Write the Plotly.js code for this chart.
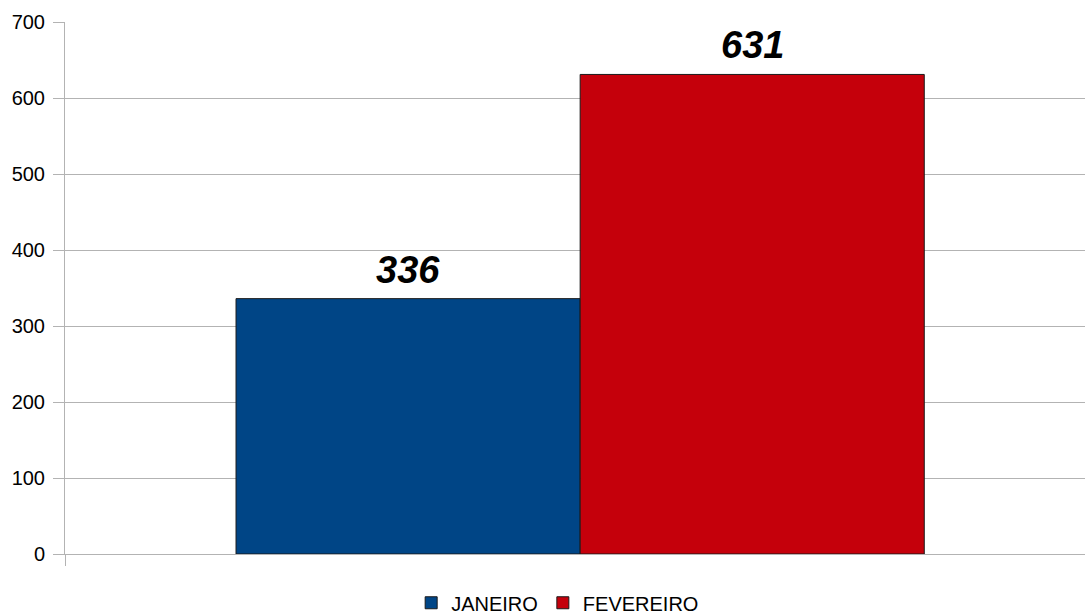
<!DOCTYPE html>
<html>
<head>
<meta charset="utf-8">
<script src="https://cdn.plot.ly/plotly-3.0.1.min.js"></script>
<style>html,body{margin:0;padding:0;background:#fff}#chart{width:1085px;height:615px}</style>
</head>
<body>
<div id="chart"></div>
<script>
const category = [""];
const seriesNames = ["JANEIRO", "FEVEREIRO"];
const janeiro = [336];
const fevereiro = [631];
const colors = ["#004586", "#C5000B"];
const yTicks = [0, 100, 200, 300, 400, 500, 600, 700];

const font = "Liberation Sans, Arial, sans-serif";
const seriesValues = [janeiro, fevereiro];
const bargap = 0.332;
const barWidth = (1 - bargap) / seriesNames.length;

const traces = seriesNames.map((name, i) => ({
  type: "bar",
  name: name,
  x: category,
  y: seriesValues[i],
  marker: {color: colors[i], line: {color: "#1a1a1a", width: 1}}
}));

const annotations = [];
seriesNames.forEach((name, i) => {
  seriesValues[i].forEach((v, j) => {
    annotations.push({
      xref: "x", yref: "y",
      x: j - (1 - bargap) / 2 + barWidth * (i + 0.5),
      y: v, yanchor: "bottom", xanchor: "center", yshift: 6,
      text: "<b><i>" + v + "</i></b>", showarrow: false,
      font: {family: font, size: 38, color: "#000"}
    });
  });
});

const layout = {
  width: 1085, height: 615,
  margin: {l: 65, r: 0, t: 22, b: 61, autoexpand: false},
  paper_bgcolor: "#fff", plot_bgcolor: "#fff",
  barmode: "group",
  bargap: bargap,
  bargroupgap: 0,
  showlegend: true,
  annotations: annotations,
  legend: {orientation: "h", x: 0.483, xanchor: "center", y: -0.055, yanchor: "top",
           font: {family: font, size: 20, color: "#000"}, itemwidth: 30, traceorder: "normal"},
  xaxis: {type: "category", range: [-0.5, 0.49], showline: true, linecolor: "#b3b3b3", linewidth: 1,
          ticks: "outside", ticklen: 11, tickcolor: "#b3b3b3", tickson: "boundaries",
          showticklabels: false, showgrid: false, zeroline: false, fixedrange: true},
  yaxis: {range: [0, 700], tickvals: yTicks, ticktext: yTicks.map(String),
          showline: true, linecolor: "#b3b3b3", linewidth: 1,
          ticks: "outside", ticklen: 11, tickcolor: "#b3b3b3",
          gridcolor: "#b3b3b3", gridwidth: 1, zeroline: false, ticklabelstandoff: 4,
          tickfont: {family: font, size: 20, color: "#000"}, fixedrange: true}
};

Plotly.newPlot("chart", traces, layout, {displayModeBar: false, staticPlot: true});
</script>
</body>
</html>
